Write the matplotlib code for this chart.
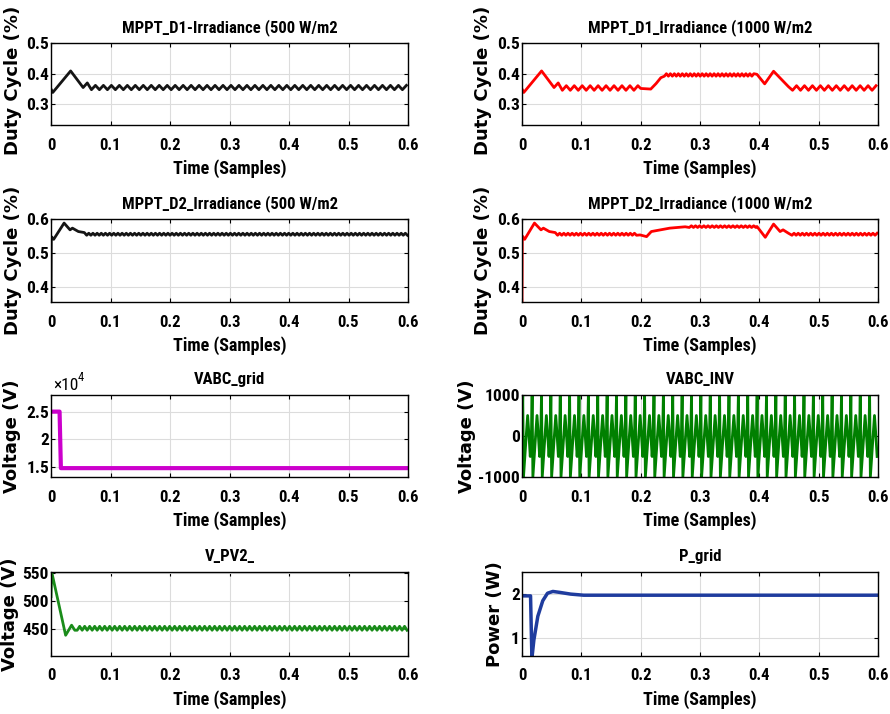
import numpy as np
import matplotlib
matplotlib.use('Agg')
from matplotlib import pyplot as plt

# ---- data ------------------------------------------------------------
# MPPT D1, 500 W/m2 (black)
d1_500_t = [0.0, 0.003, 0.033, 0.054, 0.061]
d1_500_v = [0.350, 0.339, 0.409, 0.355, 0.370]
d1_500_ripple = [0.348, 0.362]          # low / high of the steady zig-zag
d1_500_period = 0.0134

# MPPT D1, 1000 W/m2 (red)
d1_1000_t = [0.0, 0.003, 0.033, 0.054, 0.061]
d1_1000_v = [0.350, 0.339, 0.409, 0.355, 0.370]
d1_1000_ripple = [0.346, 0.361]
d1_1000_mid_t = [0.200, 0.217, 0.226, 0.234]
d1_1000_mid_v = [0.352, 0.350, 0.368, 0.387]
d1_1000_high = [0.392, 0.400]
d1_1000_drop_t = [0.396, 0.409, 0.424, 0.449]
d1_1000_drop_v = [0.398, 0.367, 0.408, 0.358]

# MPPT D2, 500 W/m2 (black)
d2_500_t = [0.0, 0.0005, 0.0045, 0.022, 0.032, 0.036, 0.046, 0.056]
d2_500_v = [0.355, 0.548, 0.540, 0.588, 0.568, 0.573, 0.563, 0.560]
d2_500_ripple = [0.552, 0.558]
d2_500_period = 0.0070

# MPPT D2, 1000 W/m2 (red)
d2_1000_t = [0.0, 0.0005, 0.0045, 0.021, 0.032, 0.036, 0.046, 0.056]
d2_1000_v = [0.355, 0.550, 0.540, 0.588, 0.568, 0.573, 0.563, 0.560]
d2_1000_ripple = [0.552, 0.558]
d2_1000_mid_t = [0.199, 0.210, 0.218, 0.249, 0.275]
d2_1000_mid_v = [0.553, 0.548, 0.563, 0.573, 0.577]
d2_1000_high = [0.575, 0.580]
d2_1000_drop_t = [0.396, 0.410, 0.424, 0.435, 0.440, 0.449]
d2_1000_drop_v = [0.578, 0.546, 0.585, 0.563, 0.568, 0.558]

# VABC_grid (magenta)
vgrid_t = [0.0, 0.0144, 0.0166, 0.6]
vgrid_v = [25000, 25000, 14800, 14800]

# VABC_INV (green): one period of the inverter output, repeated
vinv_cycle_frac = [0.0, 0.08, 0.16, 0.30, 0.45, 0.60, 0.75, 0.88, 1.0]
vinv_cycle_v = [0, 1000, -1000, -500, 0, 500, 0, -500, 0]
vinv_period = 0.0158

# V_PV2 (green)
vpv_t = [0.0, 0.0012, 0.0246, 0.0346, 0.040]
vpv_v = [508, 552, 439, 457, 448]
vpv_ripple = [448, 455]
vpv_period = 0.0084

# P_grid (blue)
pgrid_t = [0.0, 0.0144, 0.0167, 0.020, 0.0267, 0.035, 0.043, 0.052, 0.063,
           0.082, 0.104, 0.6]
pgrid_v = [1.96, 1.96, 0.55, 0.96, 1.50, 1.85, 2.02, 2.06, 2.04, 2.00,
           1.975, 1.975]


def zigzag(t0, t1, period, levels):
    t = np.arange(t0, t1, period / 2)
    return list(t), list(np.resize(levels, len(t)))


def join(*parts):
    t, v = [], []
    for pt, pv in parts:
        t += list(pt)
        v += list(pv)
    return np.array(t), np.array(v)


# ---- figure ------------------------------------------------------------
plt.rcParams['font.family'] = ['Roboto Condensed', 'DejaVu Sans']
plt.rcParams['font.weight'] = 'bold'
plt.rcParams['axes.unicode_minus'] = False

fig = plt.figure(figsize=(8.9, 7.14), dpi=100)

W, H = 890.0, 714.0
cols = [(51, 408), (522, 878)]
rows = [(43, 125), (219, 302), (395, 477), (572, 656)]


def make_ax(r, c, title):
    x0, x1 = cols[c]
    y0, y1 = rows[r]
    ax = fig.add_axes([x0 / W, 1 - y1 / H, (x1 - x0) / W, (y1 - y0) / H])
    ax.set_xlim(0, 0.6)
    ax.set_xticks([0, 0.1, 0.2, 0.3, 0.4, 0.5, 0.6])
    ax.set_xticklabels(['0', '0.1', '0.2', '0.3', '0.4', '0.5', '0.6'])
    ax.grid(True, color='#dcdcdc', linewidth=0.8)
    ax.set_axisbelow(True)
    ax.tick_params(direction='in', length=3, width=0.8, top=True, right=True,
                   labelsize=12.5)
    ax.tick_params(axis='x', pad=9, labelsize=12)
    ax.tick_params(axis='y', pad=1.5)
    for s in ax.spines.values():
        s.set_linewidth(1.0)
    ax.set_xlabel('Time (Samples)', fontsize=13, fontweight='bold', labelpad=5)
    ax.set_title(title, fontsize=12, fontweight='bold', pad=8)
    return ax


def ylab(ax, text, x, y=0.5):
    ax.set_ylabel(text, fontsize=13, fontweight='bold', family='DejaVu Sans')
    ax.yaxis.set_label_coords(x, y)


# D1 500
ax = make_ax(0, 0, 'MPPT_D1-Irradiance (500 W/m2')
t, v = join((d1_500_t, d1_500_v),
            zigzag(0.068, 0.601, d1_500_period, d1_500_ripple))
ax.plot(t, v, color='#151515', linewidth=2)
ax.set_ylim(0.233, 0.5)
ax.set_yticks([0.3, 0.4, 0.5])
ylab(ax, 'Duty Cycle (%)', -0.081, 0.54)

# D1 1000
ax = make_ax(0, 1, 'MPPT_D1_Irradiance (1000 W/m2')
t, v = join((d1_1000_t, d1_1000_v),
            zigzag(0.068, 0.198, d1_500_period, d1_1000_ripple),
            (d1_1000_mid_t, d1_1000_mid_v),
            zigzag(0.240, 0.394, 0.0067, d1_1000_high),
            (d1_1000_drop_t, d1_1000_drop_v),
            zigzag(0.456, 0.601, d1_500_period, d1_1000_ripple))
ax.plot(t, v, color='#ff0000', linewidth=2)
ax.set_ylim(0.233, 0.5)
ax.set_yticks([0.3, 0.4, 0.5])
ylab(ax, 'Duty Cycle (%)', -0.084, 0.54)

# D2 500
ax = make_ax(1, 0, 'MPPT_D2_Irradiance (500 W/m2')
t, v = join((d2_500_t, d2_500_v),
            zigzag(0.060, 0.601, d2_500_period, d2_500_ripple))
ax.plot(t, v, color='#151515', linewidth=2)
ax.set_ylim(0.355, 0.6)
ax.set_yticks([0.4, 0.5, 0.6])
ylab(ax, 'Duty Cycle (%)', -0.081)

# D2 1000
ax = make_ax(1, 1, 'MPPT_D2_Irradiance (1000 W/m2')
t, v = join((d2_1000_t, d2_1000_v),
            zigzag(0.060, 0.196, d2_500_period, d2_1000_ripple),
            (d2_1000_mid_t, d2_1000_mid_v),
            zigzag(0.282, 0.394, d2_500_period, d2_1000_high),
            (d2_1000_drop_t, d2_1000_drop_v),
            zigzag(0.455, 0.601, d2_500_period, d2_1000_ripple))
ax.plot(t, v, color='#ff0000', linewidth=2)
ax.set_ylim(0.355, 0.6)
ax.set_yticks([0.4, 0.5, 0.6])
ylab(ax, 'Duty Cycle (%)', -0.084)

# VABC_grid
ax = make_ax(2, 0, 'VABC_grid')
ax.plot(vgrid_t, vgrid_v, color='#cc00cc', linewidth=3)
ax.set_ylim(13200, 28000)
ax.set_yticks([15000, 20000, 25000])
ax.set_yticklabels(['1.5', '2', '2.5'])
ax.text(0.005, 1.03, '×10', transform=ax.transAxes, fontsize=12.5,
        fontweight='normal', ha='left', va='bottom')
ax.text(0.075, 1.14, '4', transform=ax.transAxes, fontsize=9,
        fontweight='normal', ha='left', va='bottom')
ylab(ax, 'Voltage (V)', -0.084)

# VABC_INV
ax = make_ax(2, 1, 'VABC_INV')
n_cyc = int(np.ceil(0.6 / vinv_period))
frac = np.array(vinv_cycle_frac[:-1])
t = np.concatenate([(k + frac) * vinv_period for k in range(n_cyc)])
v = np.tile(vinv_cycle_v[:-1], n_cyc)
ax.plot(t, v, color='#008000', linewidth=2)
ax.set_ylim(-1000, 1000)
ax.set_yticks([-1000, 0, 1000])
ylab(ax, 'Voltage (V)', -0.128)

# V_PV2
ax = make_ax(3, 0, 'V_PV2_')
t, v = join((vpv_t, vpv_v), zigzag(0.044, 0.601, vpv_period, vpv_ripple))
ax.plot(t, v, color='#1a8c1a', linewidth=2)
ax.set_ylim(402, 552)
ax.set_yticks([450, 500, 550])
ylab(ax, 'Voltage (V)', -0.09)

# P_grid
ax = make_ax(3, 1, 'P_grid')
ax.plot(pgrid_t, pgrid_v, color='#1f3c9e', linewidth=2.5)
ax.set_ylim(0.6, 2.5)
ax.set_yticks([1, 2])
ylab(ax, 'Power (W)', -0.05)

fig.savefig('out.png', dpi=100)
